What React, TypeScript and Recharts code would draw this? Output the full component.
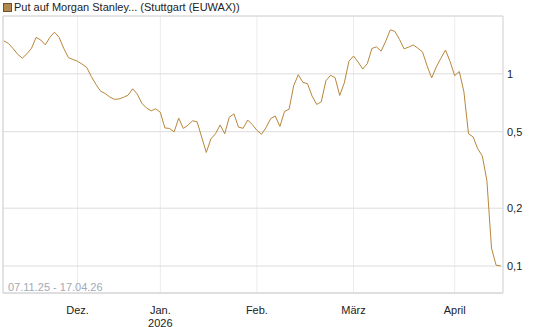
import { LineChart, Line, XAxis, YAxis, CartesianGrid, ReferenceLine } from 'recharts';

// closing prices per trading day, 07.11.25 - 17.04.26
const prices = [
  1.484, 1.439, 1.354, 1.264, 1.207, 1.271, 1.359, 1.548, 1.501, 1.415,
  1.55, 1.647, 1.547, 1.359, 1.216, 1.188, 1.163, 1.123, 1.081, 0.968,
  0.882, 0.813, 0.79, 0.758, 0.737, 0.74, 0.755, 0.775, 0.836, 0.784,
  0.702, 0.664, 0.642, 0.658, 0.631, 0.523, 0.52, 0.499, 0.588, 0.52,
  0.54, 0.57, 0.563, 0.468, 0.39, 0.459, 0.488, 0.542, 0.488, 0.595,
  0.619, 0.528, 0.521, 0.575, 0.544, 0.509, 0.485, 0.526, 0.585, 0.603,
  0.533, 0.637, 0.655, 0.869, 0.99, 0.903, 0.889, 0.766, 0.693, 0.716,
  0.921, 0.983, 0.955, 0.772, 0.897, 1.162, 1.238, 1.153, 1.059, 1.13,
  1.355, 1.382, 1.312, 1.479, 1.694, 1.663, 1.51, 1.349, 1.378, 1.413,
  1.36, 1.3, 1.1, 0.953, 1.087, 1.205, 1.33, 1.159, 0.979, 1.028,
  0.807, 0.488, 0.47, 0.408, 0.374, 0.278, 0.124, 0.101, 0.1,
];

// index of the first trading day of each month and its label
const monthTicks = [16, 34, 55, 76, 98];
const monthLabels = ['Dez.', 'Jan.\n2026', 'Feb.', 'März', 'April'];
const priceTicks = [0.1, 0.2, 0.5, 1];

const seriesName = 'Put auf Morgan Stanley... (Stuttgart (EUWAX))';
const rangeLabel = '07.11.25 - 17.04.26';

const data = prices.map((v, i) => ({ i, v }));

const FONT = '"Liberation Sans", Arial, sans-serif';

const MonthTick = ({ x, y, payload }: any) => {
  const idx = monthTicks.indexOf(payload.value);
  const lines = (monthLabels[idx] || '').split('\n');
  return (
    <text x={x} y={y} textAnchor="middle" fontSize={11} fill="#222" fontFamily={FONT}>
      {lines.map((l, k) => (
        <tspan key={k} x={x} dy={k === 0 ? 13 : 12.5}>{l}</tspan>
      ))}
    </text>
  );
};

export default function App() {
  return (
    <div style={{ position: 'absolute', left: 0, top: 0, width: 545, height: 327, background: '#fff', fontFamily: FONT }}>
      <div style={{ position: 'absolute', left: 3, top: 3, width: 7, height: 7, background: '#b08850', border: '1px solid #6e522c' }} />
      <div style={{ position: 'absolute', left: 14, top: 0, fontSize: 11, lineHeight: '14px', color: '#222' }}>{seriesName}</div>
      <LineChart width={545} height={327} data={data} margin={{ top: 16, right: 0, bottom: 0, left: 3 }}>
        <CartesianGrid horizontal={false} stroke="#ececec" />
        <CartesianGrid vertical={false} stroke="#dcdcdc" />
        <ReferenceLine y={2} stroke="#dcdcdc" />
        <ReferenceLine x={-0.2} stroke="#d0d0d0" />
        <XAxis
          dataKey="i"
          type="number"
          domain={[-0.2, 108.5]}
          allowDataOverflow
          ticks={monthTicks}
          interval={0}
          tick={<MonthTick />}
          tickLine={false}
          axisLine={{ stroke: '#d0d0d0' }}
          height={34}
        />
        <YAxis
          orientation="right"
          scale="log"
          domain={[0.0724, 2]}
          allowDataOverflow
          ticks={priceTicks}
          interval={0}
          tickFormatter={(v: number) => String(v).replace('.', ',')}
          tick={{ fontSize: 11, fill: '#222', fontFamily: FONT }}
          tickLine={false}
          tickSize={0}
          tickMargin={4}
          axisLine={{ stroke: '#d8d8d8' }}
          width={42}
        />
        <Line
          type="linear"
          dataKey="v"
          stroke="#b8863b"
          strokeWidth={1}
          dot={false}
          isAnimationActive={false}
        />
      </LineChart>
      <div style={{ position: 'absolute', left: 8, top: 280, fontSize: 11, lineHeight: '14px', color: '#a3a9b6' }}>{rangeLabel}</div>
    </div>
  );
}
